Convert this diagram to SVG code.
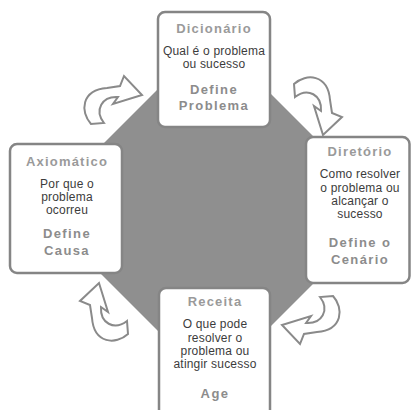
<svg xmlns="http://www.w3.org/2000/svg" width="411" height="410" viewBox="0 0 411 410">
<style>
.box{fill:#fff;stroke:#858585;stroke-width:2.5}
.arr{fill:#fff;stroke:#8a8a8a;stroke-width:2;stroke-linejoin:miter}
text{font-family:"Liberation Sans",Arial,sans-serif;text-anchor:middle}
.t{font-size:13px;font-weight:bold;fill:#9a9a9a;letter-spacing:1.2px}
.b{font-size:12px;fill:#3c3c3c;letter-spacing:0.2px}
.d{font-size:13px;font-weight:bold;fill:#8c8c8c;letter-spacing:1.4px}
</style>
<defs>
<path id="carrow" d="M91,124 C80,112 81,90 107,88 L120,86 L124,76 L142,95 L113,104 L118,97 C102,96 94,110 104,123 Z"/>
</defs>
<polygon points="161,86 263,86 336,159 336,261 263,334 161,334 88,261 88,159" fill="#8f8f8f"/>
<g id="connectors">
<use href="#carrow" class="arr"/>
<use href="#carrow" class="arr" transform="translate(-4,-5) rotate(90 212 210)"/>
<use href="#carrow" class="arr" transform="rotate(180 212 210)"/>
<use href="#carrow" class="arr" transform="translate(2,3) rotate(270 212 210)"/>
</g>
<g id="dicionario">
<rect class="box" x="158" y="12" width="112" height="115" rx="7"/>
<text class="t" x="214" y="33">Dicionário</text>
<text class="b" x="214" y="55">Qual é o problema</text>
<text class="b" x="214" y="67.5">ou sucesso</text>
<text class="d" x="214" y="93.5">Define</text>
<text class="d" x="214" y="110">Problema</text>
</g>
<g id="diretorio">
<rect class="box" x="306" y="137" width="103.5" height="146" rx="7"/>
<text class="t" x="360" y="156">Diretório</text>
<text class="b" x="360" y="177.5">Como resolver</text>
<text class="b" x="360" y="191.5">o problema ou</text>
<text class="b" x="360" y="205">alcançar o</text>
<text class="b" x="360" y="218">sucesso</text>
<text class="d" x="360" y="247">Define o</text>
<text class="d" x="360" y="264">Cenário</text>
</g>
<g id="axiomatico">
<rect class="box" x="10" y="144" width="112" height="129" rx="7"/>
<text class="t" x="67" y="165.5">Axiomático</text>
<text class="b" x="67" y="187.5">Por que o</text>
<text class="b" x="67" y="201">problema</text>
<text class="b" x="67" y="214">ocorreu</text>
<text class="d" x="67" y="238">Define</text>
<text class="d" x="67" y="255">Causa</text>
</g>
<g id="receita">
<rect class="box" x="159" y="288" width="111" height="130" rx="7"/>
<text class="t" x="215" y="306">Receita</text>
<text class="b" x="215" y="328">O que pode</text>
<text class="b" x="215" y="342">resolver o</text>
<text class="b" x="215" y="355">problema ou</text>
<text class="b" x="215" y="367.5">atingir sucesso</text>
<text class="d" x="215" y="397.5">Age</text>
</g>
</svg>
